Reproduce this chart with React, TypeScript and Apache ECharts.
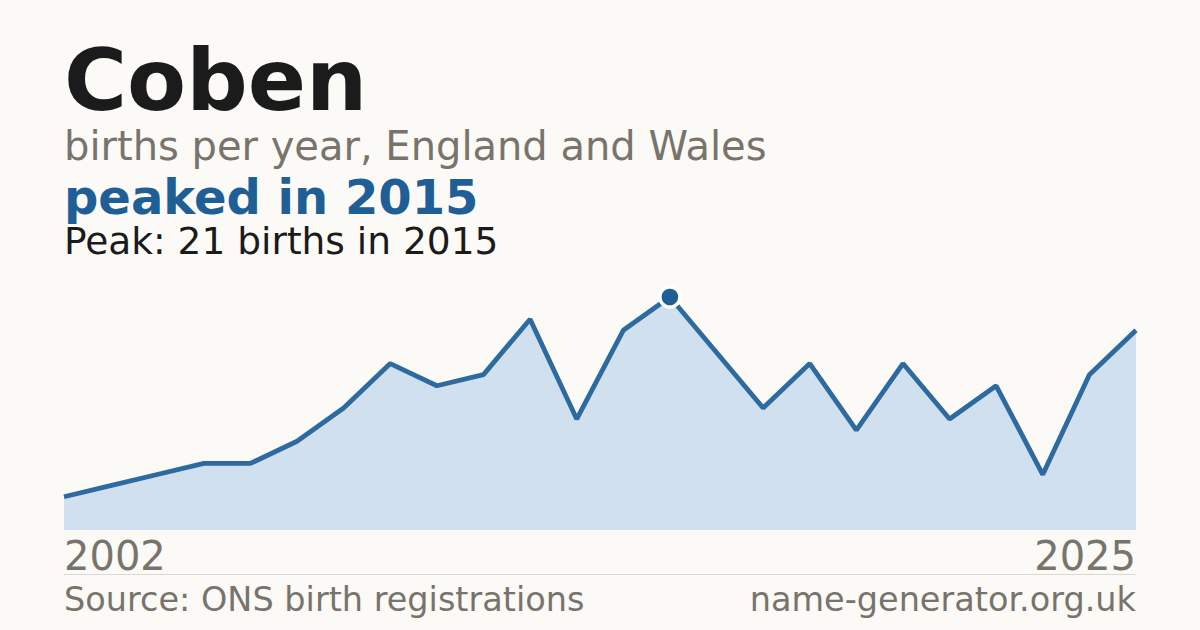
import React, { useEffect, useRef } from "react";
import * as echarts from "echarts";

const years: string[] = [
  "2002", "2003", "2004", "2005", "2006", "2007", "2008", "2009", "2010", "2011", "2012", "2013",
  "2014", "2015", "2016", "2017", "2018", "2019", "2020", "2021", "2022", "2023", "2024", "2025",
];
const births: number[] = [3, 4, 5, 6, 6, 8, 11, 15, 13, 14, 19, 10, 18, 21, 16, 11, 15, 9, 15, 10, 13, 5, 14, 18];

const titleText = "Coben";
const subtitleText = "births per year, England and Wales";
const headlineText = "peaked in 2015";
const peakText = "Peak: 21 births in 2015";
const sourceText = "Source: ONS birth registrations";
const siteText = "name-generator.org.uk";

const FONT = "DejaVu Sans";
const GREY = "#78746c";
const BLUE = "#1f5f96";

export default function App() {
  const ref = useRef<HTMLDivElement>(null);
  useEffect(() => {
    if (!ref.current) return;
    const chart = echarts.init(ref.current, null, { renderer: "svg" });
    const peakVal = Math.max(...births);
    const peakIdx = births.indexOf(peakVal);
    chart.setOption({
      animation: false,
      backgroundColor: "#fbfaf6",
      grid: { left: 64, right: 64, top: 297, bottom: 100 },
      xAxis: {
        type: "category",
        data: years,
        boundaryGap: false,
        axisLine: { show: false },
        axisTick: { show: false },
        axisLabel: { show: false },
      },
      yAxis: {
        type: "value",
        min: 0,
        max: peakVal,
        show: false,
        splitLine: { show: false },
      },
      series: [
        {
          type: "line",
          data: births,
          symbol: "none",
          lineStyle: { color: "#2c6a9f", width: 4.8 },
          areaStyle: { color: "#d0e0ef", opacity: 1 },
          z: 2,
        },
        {
          type: "scatter",
          data: births.map((v, i) => (i === peakIdx ? v : null)),
          symbol: "circle",
          symbolSize: 20,
          itemStyle: { color: BLUE, borderColor: "#ffffff", borderWidth: 3.5, opacity: 1 },
          z: 5,
        },
      ],
      graphic: [
        { type: "text", x: 64, y: 80, style: { text: titleText, fontFamily: FONT, fontWeight: "bold", fontSize: 86, fill: "#1b1b1b", verticalAlign: "middle" } },
        { type: "text", x: 64, y: 146, style: { text: subtitleText, fontFamily: FONT, fontSize: 40, fill: GREY, verticalAlign: "middle" } },
        { type: "text", x: 64, y: 197, style: { text: headlineText, fontFamily: FONT, fontWeight: "bold", fontSize: 48, fill: BLUE, verticalAlign: "middle" } },
        { type: "text", x: 64, y: 241, style: { text: peakText, fontFamily: FONT, fontSize: 37.5, fill: "#1b1b1b", verticalAlign: "middle" } },
        { type: "text", x: 64, y: 556, style: { text: years[0], fontFamily: FONT, fontSize: 40, fill: GREY, verticalAlign: "middle", align: "left" } },
        { type: "text", x: 1136, y: 556, style: { text: years[years.length - 1], fontFamily: FONT, fontSize: 40, fill: GREY, verticalAlign: "middle", align: "right" } },
        { type: "line", shape: { x1: 64, y1: 574.5, x2: 1136, y2: 574.5 }, style: { stroke: "#dcd9d2", lineWidth: 1 } },
        { type: "text", x: 64, y: 599, style: { text: sourceText, fontFamily: FONT, fontSize: 33.5, fill: GREY, verticalAlign: "middle", align: "left" } },
        { type: "text", x: 1136, y: 599, style: { text: siteText, fontFamily: FONT, fontSize: 33.5, fill: GREY, verticalAlign: "middle", align: "right" } },
      ],
    });
    return () => chart.dispose();
  }, []);
  return <div ref={ref} style={{ position: "absolute", left: 0, top: 0, width: 1200, height: 630 }} />;
}
